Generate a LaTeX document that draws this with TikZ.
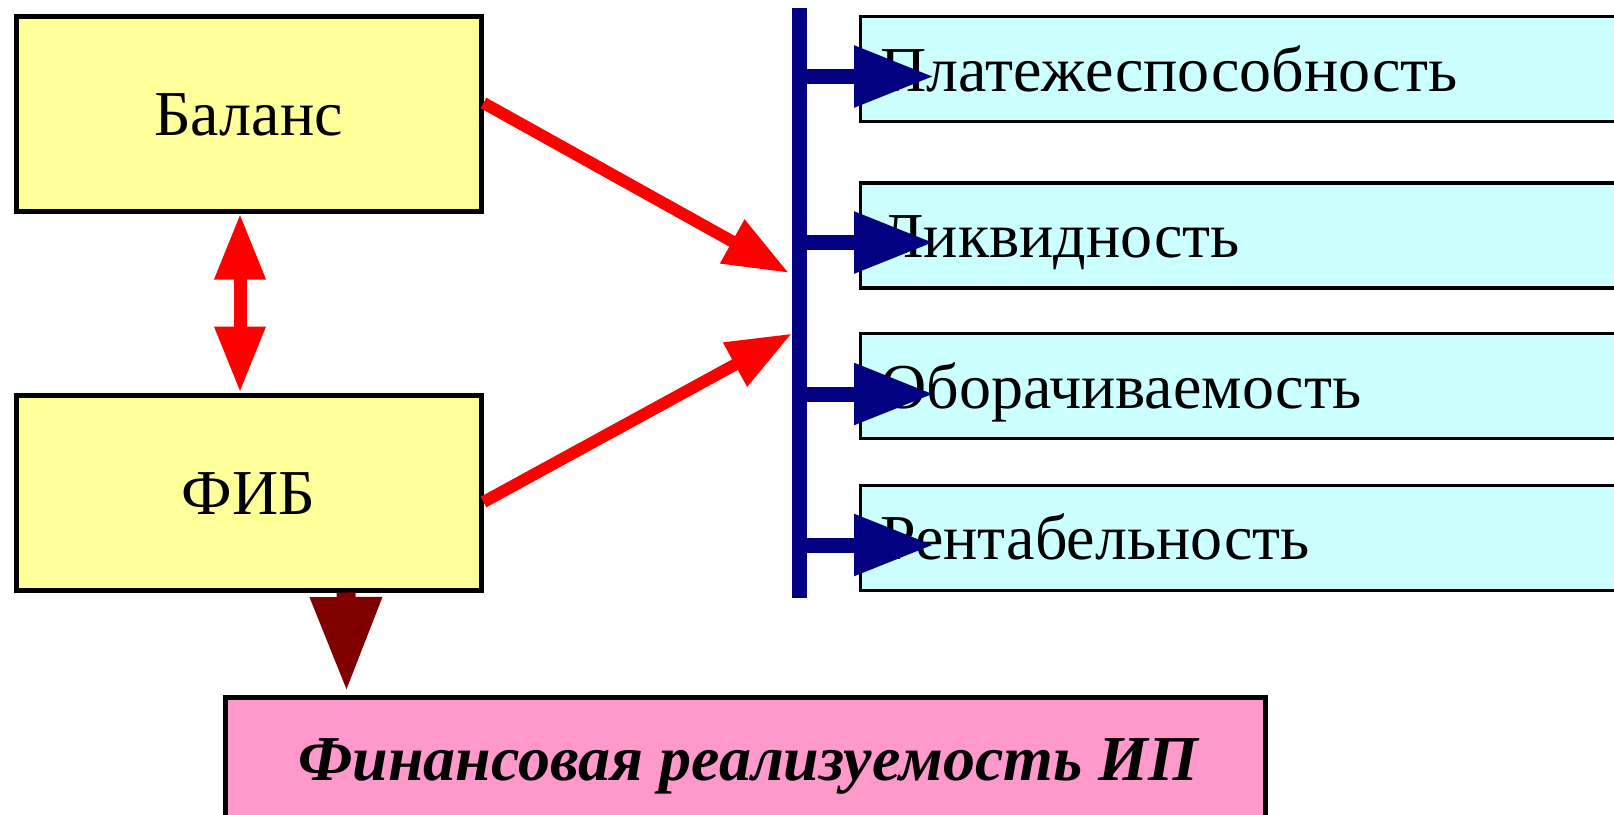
\documentclass[tikz,border=0pt]{standalone}
\usepackage{fontspec}
\setmainfont{Liberation Serif}
\usetikzlibrary{arrows.meta}
\definecolor{boxyellow}{HTML}{FFFF99}
\definecolor{boxcyan}{HTML}{CCFFFF}
\definecolor{boxpink}{HTML}{FF99CC}
\definecolor{barnavy}{HTML}{000080}
\definecolor{arrowbrown}{HTML}{800000}

\begin{document}
\begin{tikzpicture}[x=1pt,y=-1pt,
  bigtext/.style={font=\fontsize{64}{68}\selectfont, text height=44pt, text depth=0pt},
  yellowbox/.style={bigtext, draw=black, line width=5pt, fill=boxyellow,
    minimum width=465pt, minimum height=195pt, inner sep=0pt},
  cyanbox/.style={bigtext, draw=black, line width=3.5pt, fill=boxcyan,
    minimum width=780pt, minimum height=105pt, inner xsep=20pt, inner ysep=0pt,
    text width=740pt, align=left},
  pinkbox/.style={bigtext, draw=black, line width=5pt, fill=boxpink,
    minimum width=1039.5pt, minimum height=121pt, inner sep=0pt,
    font=\fontsize{64}{68}\selectfont\bfseries\itshape},
  redarrow/.style={draw=red, line width=12pt, -{Triangle[length=65pt,width=47pt]}},
  twoway/.style={draw=red, line width=13pt,
    {Triangle[length=66pt,width=48pt]}-{Triangle[length=66pt,width=48pt]}},
  branch/.style={draw=barnavy, line width=15pt, -{Triangle[length=80pt,width=58pt]}},
  busbar/.style={draw=barnavy, line width=15pt},
  downarrow/.style={draw=arrowbrown, line width=19pt, -{Triangle[length=95pt,width=67pt]}}
]
\useasboundingbox (0,0) rectangle (1614,814);
\clip (0,0) rectangle (1614,814);

% source boxes
\node[yellowbox] (balans) at (248.5,113.5) {Баланс};
\node[yellowbox] (fib) at (248.5,492.5) {ФИБ};

% indicator boxes
\node[cyanbox] (pay) at (1250.5,69) {Платежеспособность};
\node[cyanbox] (liq) at (1250.5,235.6) {Ликвидность};
\node[cyanbox] (turn) at (1250.5,386) {Оборачиваемость};
\node[cyanbox] (prof) at (1250.5,537.8) {Рентабельность};

% result box
\node[pinkbox] (fin) at (745.25,758) {\hspace*{6pt}Финансовая реализуемость ИП};

% vertical bus and its branches
\coordinate (bustop) at (799.5,8.3);
\coordinate (busbot) at (799.5,597.7);
\draw[busbar] (bustop) -- (busbot);
\coordinate (b1) at (799.5,76.5);
\coordinate (b2) at (799.5,242.5);
\coordinate (b3) at (799.5,394);
\coordinate (b4) at (799.5,545);
\draw[branch] (b1) -- (b1 -| 934,0);
\draw[branch] (b2) -- (b2 -| 934,0);
\draw[branch] (b3) -- (b3 -| 934,0);
\draw[branch] (b4) -- (b4 -| 934,0);

% inputs into the bus
\coordinate (in1) at (789,273);
\coordinate (in2) at (792,333.5);
\draw[redarrow] ([yshift=10.5pt]balans.east) -- (in1);
\draw[redarrow] ([yshift=-9.5pt]fib.east) -- (in2);

% link between the two sources
\draw[twoway] ([xshift=-8.5pt]balans.south) -- ([xshift=-8.5pt]fib.north);

% towards the result
\coordinate (ftip) at (346.5,692);
\draw[downarrow] ([xshift=97.5pt]fib.south) -- (ftip);
\end{tikzpicture}
\end{document}
